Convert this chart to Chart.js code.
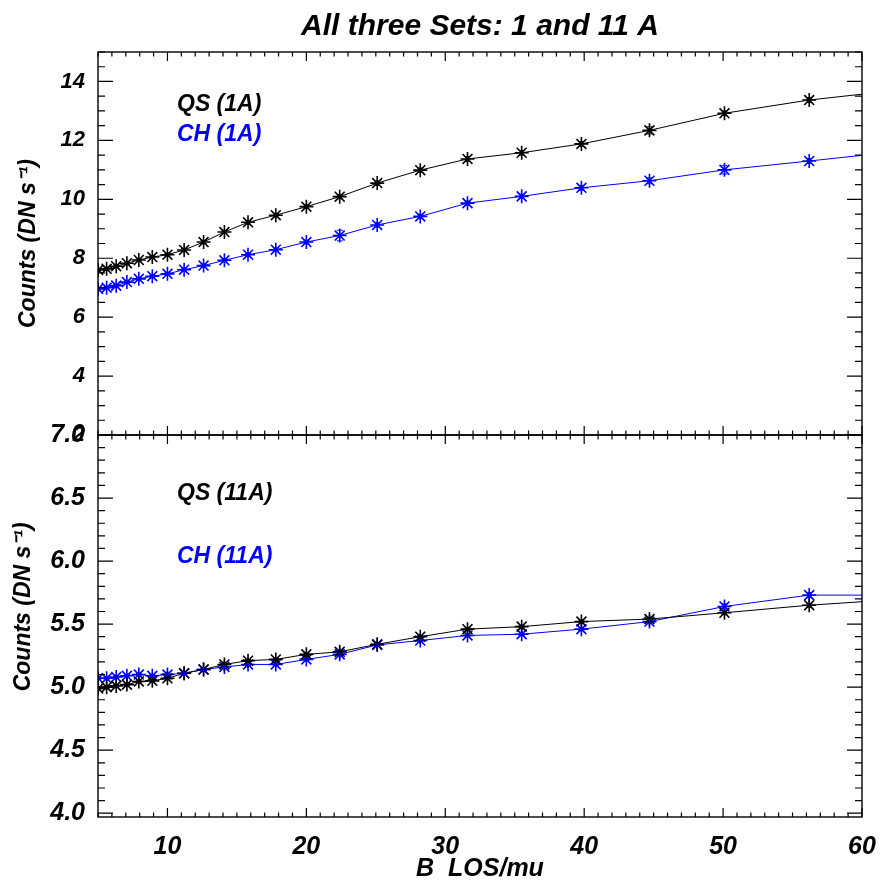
<!DOCTYPE html>
<html>
<head>
<meta charset="utf-8">
<script src="https://cdn.jsdelivr.net/npm/chart.js@4"></script>
<style>
  html, body { margin: 0; padding: 0; background: #fff; }
  #wrap { position: relative; width: 880px; height: 886px; }
  #wrap canvas { position: absolute; left: 0; top: 0; }
</style>
</head>
<body>
<div id="wrap">
  <canvas id="top" width="880" height="886"></canvas>
  <canvas id="bottom" width="880" height="886"></canvas>
</div>
<script>
// B LOS / mu bins (same for every curve)
var bLos = [5.01, 5.62, 6.31, 7.08, 7.94, 8.91, 10.0, 11.2, 12.6, 14.1, 15.8, 17.8,
            20.0, 22.4, 25.1, 28.2, 31.6, 35.5, 39.8, 44.7, 50.1, 56.2, 63.1];

// top panel, 1 A
var qs1 = [7.60, 7.64, 7.73, 7.83, 7.94, 8.04, 8.12, 8.28, 8.55, 8.89, 9.22, 9.46,
           9.75, 10.09, 10.55, 10.99, 11.37, 11.58, 11.88, 12.34, 12.92, 13.37, 13.73];
var qs1Err = [0.04, 0.04, 0.04, 0.04, 0.04, 0.04, 0.04, 0.05, 0.05, 0.05, 0.06, 0.06,
              0.06, 0.07, 0.07, 0.07, 0.08, 0.08, 0.08, 0.12, 0.08, 0.08, 0.10];
var ch1 = [6.96, 7.00, 7.07, 7.19, 7.30, 7.39, 7.47, 7.61, 7.75, 7.93, 8.12, 8.29,
           8.55, 8.77, 9.13, 9.42, 9.87, 10.10, 10.39, 10.63, 11.00, 11.30, 11.65];
var ch1Err = [0.04, 0.04, 0.04, 0.04, 0.04, 0.04, 0.04, 0.05, 0.05, 0.05, 0.05, 0.06,
              0.06, 0.18, 0.07, 0.07, 0.07, 0.07, 0.08, 0.10, 0.14, 0.08, 0.10];

// bottom panel, 11 A
var qs11 = [4.99, 5.00, 5.01, 5.02, 5.045, 5.05, 5.07, 5.11, 5.14, 5.18, 5.21, 5.22,
            5.26, 5.28, 5.34, 5.40, 5.46, 5.48, 5.52, 5.54, 5.59, 5.65, 5.70];
var qs11Err = [0.01, 0.01, 0.01, 0.01, 0.01, 0.01, 0.01, 0.01, 0.01, 0.01, 0.01, 0.01,
               0.01, 0.01, 0.01, 0.01, 0.01, 0.01, 0.01, 0.01, 0.015, 0.015, 0.02];
var ch11 = [5.07, 5.07, 5.08, 5.09, 5.10, 5.09, 5.10, 5.11, 5.14, 5.16, 5.18, 5.18,
            5.22, 5.26, 5.335, 5.37, 5.41, 5.42, 5.46, 5.52, 5.64, 5.73, 5.73];
var ch11Err = [0.01, 0.01, 0.01, 0.01, 0.01, 0.01, 0.01, 0.01, 0.01, 0.01, 0.01, 0.01,
               0.01, 0.01, 0.01, 0.01, 0.01, 0.01, 0.01, 0.015, 0.02, 0.02, 0.02];

// tick labels
var xTicks = [10, 20, 30, 40, 50, 60];
var topYTicks = [2, 4, 6, 8, 10, 12, 14];
var bottomYTicks = [4.0, 4.5, 5.0, 5.5, 6.0, 6.5, 7.0];

var FAMILY = "'Liberation Sans', Arial, Helvetica, sans-serif";
function boldItalic(size) {
  return { family: FAMILY, size: size, style: 'italic', weight: 'bold' };
}

function pairs(xs, ys) {
  return xs.map(function (x, i) { return { x: x, y: ys[i] }; });
}

function fixedTicks(list) {
  return function (scale) {
    scale.ticks = list.map(function (v) { return { value: v }; });
  };
}

function fitBox(w, h) {
  return function (scale) {
    if (w !== null) scale.width = w;
    if (h !== null) scale.height = h;
    scale.paddingLeft = scale.paddingRight = scale.paddingTop = scale.paddingBottom = 0;
  };
}

function series(label, color, ys, errs) {
  return {
    label: label,
    data: pairs(bLos, ys),
    errors: errs,
    borderColor: color,
    backgroundColor: color,
    borderWidth: 1,
    tension: 0,
    pointStyle: 'star',
    pointRadius: 7,
    pointBorderWidth: 1.6,
    pointBorderColor: color
  };
}

// tick positions between the majors (decoration only)
function stepsOf(scale, majors, nMinor) {
  var step = (majors[1] - majors[0]) / nMinor;
  var out = [];
  var start = Math.ceil(scale.min / step - 1e-6);
  for (var k = start; k * step <= scale.max + 1e-6; k++) {
    var v = k * step;
    var major = majors.some(function (m) { return Math.abs(m - v) < step / 10; });
    out.push({ v: v, major: major });
  }
  return out;
}

// IDL style box: frame, inward ticks on all four sides, error bars, panel labels
var framePlugin = {
  id: 'frame',
  afterDatasetsDraw: function (chart, args, opts) {
    var ctx = chart.ctx, a = chart.chartArea;
    var xs = chart.scales.x, ys = chart.scales.y;

    ctx.save();
    ctx.beginPath();
    ctx.rect(a.left, a.top, a.right - a.left, a.bottom - a.top);
    ctx.clip();
    chart.data.datasets.forEach(function (ds) {
      if (!ds.errors) return;
      ctx.strokeStyle = ds.borderColor;
      ctx.lineWidth = 1;
      ds.data.forEach(function (p, j) {
        var e = ds.errors[j];
        var px = xs.getPixelForValue(p.x);
        var y1 = ys.getPixelForValue(p.y - e);
        var y2 = ys.getPixelForValue(p.y + e);
        ctx.beginPath();
        ctx.moveTo(px, y1); ctx.lineTo(px, y2);
        ctx.moveTo(px - 3, y1); ctx.lineTo(px + 3, y1);
        ctx.moveTo(px - 3, y2); ctx.lineTo(px + 3, y2);
        ctx.stroke();
      });
    });
    ctx.restore();

    ctx.save();
    ctx.strokeStyle = '#000';
    ctx.lineWidth = 1.4;
    ctx.strokeRect(a.left, a.top, a.right - a.left, a.bottom - a.top);
    ctx.lineWidth = 1.2;
    ctx.beginPath();
    stepsOf(xs, opts.xMajors, opts.xMinor).forEach(function (t) {
      var px = xs.getPixelForValue(t.v);
      var len = t.major ? 9 : 4.5;
      ctx.moveTo(px, a.bottom); ctx.lineTo(px, a.bottom - len);
      ctx.moveTo(px, a.top); ctx.lineTo(px, a.top + len);
    });
    stepsOf(ys, opts.yMajors, opts.yMinor).forEach(function (t) {
      var py = ys.getPixelForValue(t.v);
      var len = t.major ? 15 : 7;
      ctx.moveTo(a.left, py); ctx.lineTo(a.left + len, py);
      ctx.moveTo(a.right, py); ctx.lineTo(a.right - len, py);
    });
    ctx.stroke();

    ctx.font = 'italic bold 23px ' + FAMILY;
    ctx.textAlign = 'left';
    ctx.textBaseline = 'alphabetic';
    chart.data.datasets.forEach(function (ds, i) {
      var pos = opts.labelPos[i];
      ctx.fillStyle = ds.borderColor;
      ctx.fillText(ds.label, a.left + pos[0], a.top + pos[1]);
    });
    ctx.restore();
  }
};

var yTitle = 'Counts (DN s\u207B\u00B9)';

new Chart(document.getElementById('top'), {
  type: 'line',
  data: {
    datasets: [
      series('QS (1A)', '#000000', qs1, qs1Err),
      series('CH (1A)', '#0000ff', ch1, ch1Err)
    ]
  },
  options: {
    responsive: false,
    animation: false,
    layout: { padding: { left: 0, right: 18, top: 0, bottom: 451 } },
    plugins: {
      legend: { display: false },
      tooltip: { enabled: false },
      title: {
        display: true,
        text: 'All three Sets: 1 and 11 A',
        fullSize: false,
        color: '#000',
        font: boldItalic(30),
        padding: { top: 9, bottom: 7 }
      },
      frame: {
        xMajors: xTicks, xMinor: 10,
        yMajors: topYTicks, yMinor: 4,
        labelPos: [[79, 59], [79, 89]]
      }
    },
    scales: {
      x: {
        type: 'linear', min: 5, max: 60,
        ticks: { display: false },
        grid: { display: false },
        border: { display: false },
        afterBuildTicks: fixedTicks(xTicks),
        afterFit: fitBox(null, 0)
      },
      y: {
        type: 'linear', min: 2, max: 15,
        ticks: {
          color: '#000', font: boldItalic(22), padding: 5,
          callback: function (v) { return String(v); }
        },
        grid: { display: false },
        border: { display: false },
        title: {
          display: true, text: yTitle, color: '#000',
          font: boldItalic(23), padding: { top: 15, bottom: 0 }
        },
        afterBuildTicks: fixedTicks(topYTicks),
        afterFit: fitBox(98, null)
      }
    }
  },
  plugins: [framePlugin]
});

new Chart(document.getElementById('bottom'), {
  type: 'line',
  data: {
    datasets: [
      series('QS (11A)', '#000000', qs11, qs11Err),
      series('CH (11A)', '#0000ff', ch11, ch11Err)
    ]
  },
  options: {
    responsive: false,
    animation: false,
    layout: { padding: { left: 0, right: 18, top: 435, bottom: 0 } },
    plugins: {
      legend: { display: false },
      tooltip: { enabled: false },
      frame: {
        xMajors: xTicks, xMinor: 10,
        yMajors: bottomYTicks, yMinor: 5,
        labelPos: [[79, 65], [79, 128]]
      }
    },
    scales: {
      x: {
        type: 'linear', min: 5, max: 60,
        ticks: {
          color: '#000', font: boldItalic(25), padding: 7, maxRotation: 0,
          callback: function (v) { return String(v); }
        },
        grid: { display: false },
        border: { display: false },
        title: {
          display: true, text: 'B  LOS/mu', color: '#000',
          font: boldItalic(25), padding: { top: 0, bottom: 2 }
        },
        afterBuildTicks: fixedTicks(xTicks),
        afterFit: fitBox(null, 69)
      },
      y: {
        type: 'linear', min: 3.97, max: 7.0,
        ticks: {
          color: '#000', font: boldItalic(25), padding: 5,
          callback: function (v) { return v.toFixed(1); }
        },
        grid: { display: false },
        border: { display: false },
        title: {
          display: true, text: '      ' + yTitle, color: '#000',
          font: boldItalic(23), padding: { top: 10, bottom: 0 }
        },
        afterBuildTicks: fixedTicks(bottomYTicks),
        afterFit: fitBox(98, null)
      }
    }
  },
  plugins: [framePlugin]
});
</script>
</body>
</html>
